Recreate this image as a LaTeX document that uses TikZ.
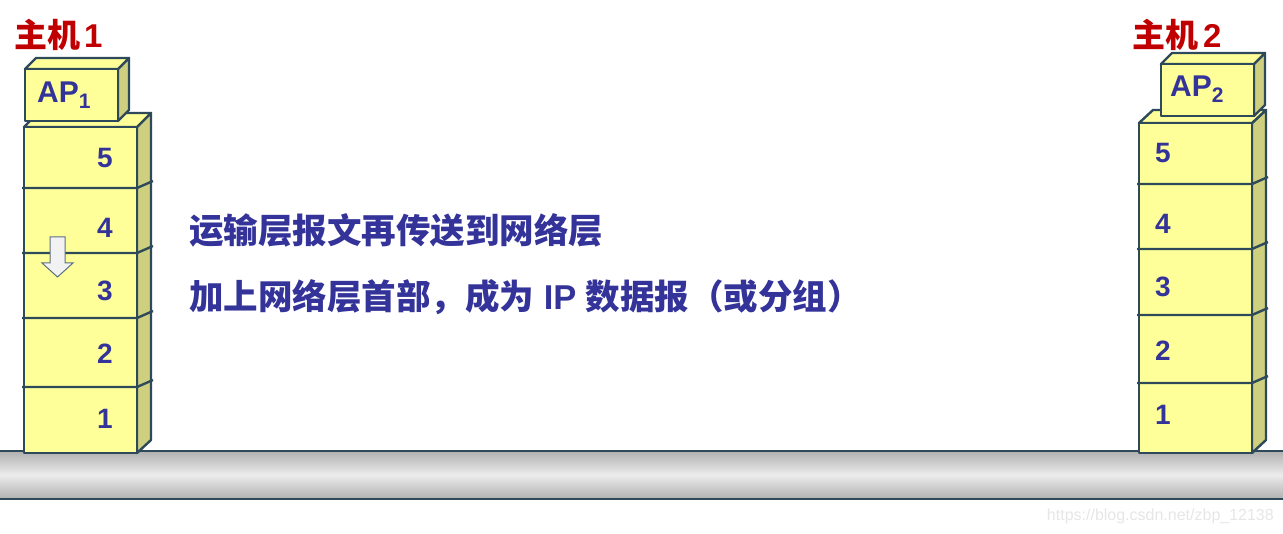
\documentclass[tikz,border=0pt]{standalone}
\usepackage{fontspec}
\setmainfont{Liberation Sans}
\newfontfamily\cjk{Noto Sans CJK SC}
\definecolor{boxyellow}{HTML}{FFFF99}
\definecolor{boxside}{HTML}{CFCF80}
\definecolor{edge}{HTML}{2E4A5A}
\definecolor{numblue}{HTML}{333399}
\definecolor{hostred}{HTML}{C00000}
\definecolor{cabledark}{HTML}{B0B0B0}
\definecolor{cablelight}{HTML}{ECECEC}
\definecolor{arrowfill}{HTML}{F2F2F2}
\definecolor{arrowedge}{HTML}{5A7080}
\definecolor{wmark}{HTML}{E6E6E6}
\tikzset{
  face/.style={fill=boxyellow, draw=edge, line width=2.4pt, line join=round},
  sideface/.style={fill=boxside, draw=edge, line width=2.4pt, line join=round},
  sepline/.style={draw=edge, line width=2.4pt},
  num/.style={font=\fontsize{28}{30}\selectfont\bfseries, text=numblue, inner sep=0pt},
  hostlbl/.style={font=\fontsize{33}{36}\selectfont\bfseries, text=hostred, inner sep=0pt, anchor=west},
  msg/.style={font=\fontsize{34.5}{40}\selectfont\bfseries, text=numblue, inner sep=0pt, anchor=west},
  aplbl/.style={font=\fontsize{30}{32}\selectfont\bfseries, text=numblue, inner sep=0pt, anchor=west},
}
\begin{document}
\begin{tikzpicture}[x=1pt,y=-1pt]
\useasboundingbox (0,0) rectangle (1283,534);
% cable
\shade[top color=cabledark, bottom color=cabledark, middle color=cablelight] (0,451) rectangle (1283,499);
\draw[edge, line width=2.5pt] (0,451) -- (1283,451);
\draw[edge, line width=2.5pt] (0,499) -- (1283,499);

% ---------- host 1 stack ----------
\path[sideface] (137,127) -- (151,113) -- (151,440) -- (137,453) -- cycle;
\path[face] (24,127) -- (38,113) -- (151,113) -- (137,127) -- cycle;
\path[face] (24,127) rectangle (137,453);
\foreach \yy in {188,253,318,387} {
  \draw[sepline] (22,\yy) -- (137,\yy) -- (153,\yy-7);
}
% AP1
\path[sideface] (118,69) -- (129,58) -- (129,110) -- (118,121) -- cycle;
\path[face] (25,69) -- (36,58) -- (129,58) -- (118,69) -- cycle;
\path[face] (25,69) rectangle (118,121);
\node[aplbl] (ap1) at (37,95) {AP\textsubscript{1}};
\node[num] (h1l5) at (105,158) {5};
\node[num] (h1l4) at (105,228) {4};
\node[num] (h1l3) at (105,291) {3};
\node[num] (h1l2) at (105,354) {2};
\node[num] (h1l1) at (105,419) {1};
% down arrow
\draw[fill=arrowfill, draw=arrowedge, line width=1pt, line join=miter]
  (50,237) -- (65,237) -- (65,263) -- (73,263) -- (57.5,277) -- (42,263) -- (50,263) -- cycle;

% ---------- host 2 stack ----------
\path[sideface] (1252,123) -- (1266,110) -- (1266,440) -- (1252,453) -- cycle;
\path[face] (1139,123) -- (1153,110) -- (1266,110) -- (1252,123) -- cycle;
\path[face] (1139,123) rectangle (1252,453);
\foreach \yy in {184,249,315,383} {
  \draw[sepline] (1137,\yy) -- (1252,\yy) -- (1268,\yy-7);
}
% AP2
\path[sideface] (1254,64) -- (1265,53) -- (1265,105) -- (1254,116) -- cycle;
\path[face] (1161,64) -- (1172,53) -- (1265,53) -- (1254,64) -- cycle;
\path[face] (1161,64) rectangle (1254,116);
\node[aplbl] (ap2) at (1170,89) {AP\textsubscript{2}};
\node[num] (h2l5) at (1163,153) {5};
\node[num] (h2l4) at (1163,224) {4};
\node[num] (h2l3) at (1163,287) {3};
\node[num] (h2l2) at (1163,351) {2};
\node[num] (h2l1) at (1163,415) {1};

% host labels
\node[hostlbl] (host1) at (14,35) {{\cjk 主机}\hspace{4pt}1};
\node[hostlbl] (host2) at (1132,35) {{\cjk 主机}\hspace{5pt}2};

% messages
\node[msg] (msg1) at (189,230) {\cjk 运输层报文再传送到网络层};
\node[msg] (msg2) at (189,297) {{\cjk 加上网络层首部，成为} IP {\cjk 数据报（或分组）}};

% watermark
\node[font=\fontsize{16}{18}\selectfont, text=wmark, anchor=east, inner sep=0pt] (wm) at (1274,516) {https://blog.csdn.net/zbp\_12138};
\end{tikzpicture}
\end{document}
